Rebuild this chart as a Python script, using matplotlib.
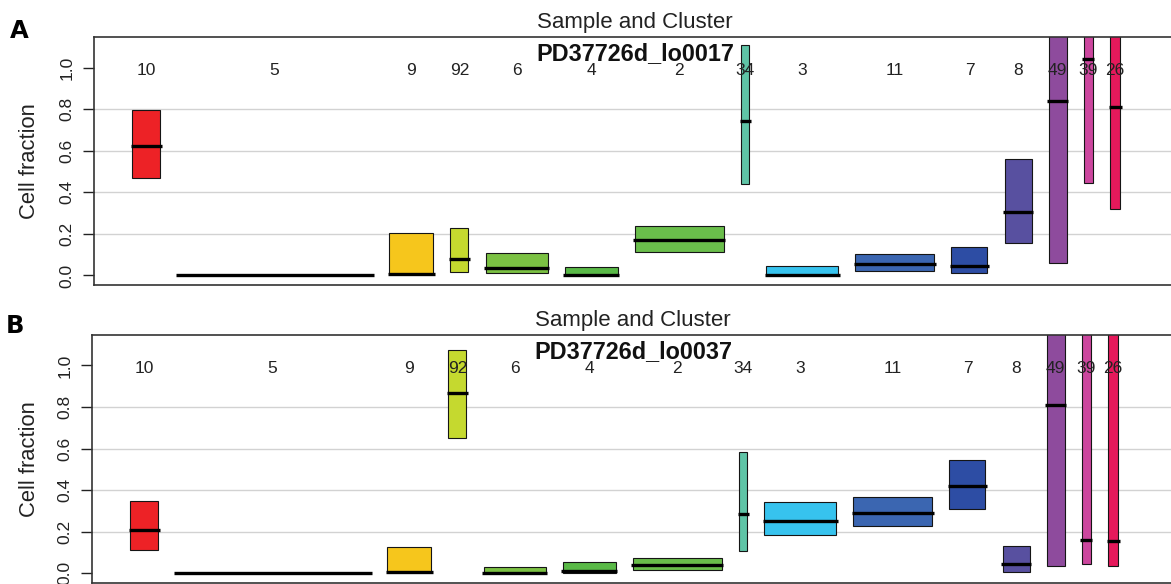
import numpy as np
import matplotlib
matplotlib.use("Agg")
import matplotlib.pyplot as plt

plt.rcParams['font.family'] = ['Liberation Sans', 'DejaVu Sans']

clusters = ['10', '5', '9', '92', '6', '4', '2', '34', '3', '11', '7', '8', '49', '39', '26']
widths = [28, 195, 44, 18, 62, 53, 89, 8, 72, 79, 36, 27, 18, 9, 10]
colors = ['#ED2226', '#111111', '#F6C61C', '#C5D92F', '#7BC143', '#59B947', '#6ABE4B',
          '#5FC4A6', '#37C3EE', '#3B66B1', '#2D4DA4', '#5850A0', '#8E4B9D', '#CC469E', '#E5195B']

samples = ['PD37726d_lo0017', 'PD37726d_lo0037']
lower = [
    [0.469, 0.0, 0.005, 0.016, 0.010, 0.000, 0.114, 0.439, 0.000, 0.022, 0.010, 0.155, 0.061, 0.445, 0.322],
    [0.113, 0.0, 0.008, 0.651, 0.000, 0.000, 0.016, 0.107, 0.185, 0.229, 0.312, 0.006, 0.036, 0.046, 0.034],
]
median = [
    [0.625, 0.0, 0.005, 0.078, 0.037, 0.003, 0.170, 0.743, 0.003, 0.053, 0.046, 0.304, 0.839, 1.043, 0.810],
    [0.211, 0.0, 0.008, 0.869, 0.003, 0.014, 0.040, 0.286, 0.251, 0.289, 0.418, 0.043, 0.808, 0.160, 0.156],
]
upper = [
    [0.796, 0.0, 0.202, 0.227, 0.110, 0.040, 0.240, 1.107, 0.046, 0.102, 0.135, 0.561, 1.25, 1.25, 1.25],
    [0.346, 0.0, 0.125, 1.075, 0.030, 0.053, 0.072, 0.586, 0.342, 0.365, 0.544, 0.133, 1.25, 1.25, 1.25],
]
panels = ['A', 'B']
yticks = [0.0, 0.2, 0.4, 0.6, 0.8, 1.0]

W, H = 1171, 584
gap = 17.15
w = np.array(widths, dtype=float)
lefts = np.concatenate([[0], np.cumsum(w[:-1] + gap)])
centers = lefts + w / 2

fig = plt.figure(figsize=(W / 100, H / 100), dpi=100)

# axes boxes in pixels: left, top, right, bottom
boxes = [(94, 37.3, 1176, 285), (92, 335, 1174, 583)]
letter_pos = [(10, 38), (6, 333.3)]

for k in range(2):
    l, t, r, b = boxes[k]
    ax = fig.add_axes([l / W, 1 - b / H, (r - l) / W, (b - t) / H])
    ax.set_xlim(-38, 1044)
    ax.set_ylim(-0.046, 1.146)

    for y in [0.2, 0.4, 0.6, 0.8]:
        ax.axhline(y, color='#d2d2d2', lw=1.0, zorder=0)

    lo = np.array(lower[k])
    hi = np.array(upper[k])
    md = np.array(median[k])
    ax.bar(lefts, hi - lo, bottom=lo, width=w, align='edge', color=colors,
           edgecolor='#151515', linewidth=0.8, zorder=2)
    ax.hlines(md, lefts - 1.5, lefts + w + 1.5, colors='#000000', lw=2.4, zorder=3)

    for c, name in zip(centers, clusters):
        ax.text(c, 0.965, name, ha='center', va='baseline', fontsize=12.5,
                color='#222222', zorder=4)

    ax.annotate('Sample and Cluster', (0.5, 1.0), xycoords='axes fraction',
                xytext=(0, 6.5), textcoords='offset points', ha='center',
                va='baseline', fontsize=16, color='#222222')
    ax.annotate(samples[k], (0.5, 1.0), xycoords='axes fraction',
                xytext=(0, -16.3), textcoords='offset points', ha='center',
                va='baseline', fontsize=16.8, fontweight='bold', color='#111111',
                zorder=5)

    ax.set_xticks([])
    ax.set_yticks(yticks)
    ax.set_yticklabels(['%.1f' % v for v in yticks])
    ax.tick_params(axis='y', length=8, width=1.0, pad=6, labelsize=12.5,
                   labelrotation=90, colors='#222222')
    for lab in ax.get_yticklabels():
        lab.set_va('center')
    for sp in ax.spines.values():
        sp.set_linewidth(1.2)
        sp.set_color('#333333')

    ax.text((35 - l) / (r - l), 0.5, 'Cell fraction', transform=ax.transAxes,
            rotation=90, rotation_mode='anchor', ha='center', va='baseline',
            fontsize=15.8, color='#222222')

    lx, ly = letter_pos[k]
    fig.text(lx / W, 1 - ly / H, panels[k], fontsize=17.5, fontweight='bold',
             family='DejaVu Sans', ha='left', va='baseline')

fig.savefig('out.png', dpi=100)
